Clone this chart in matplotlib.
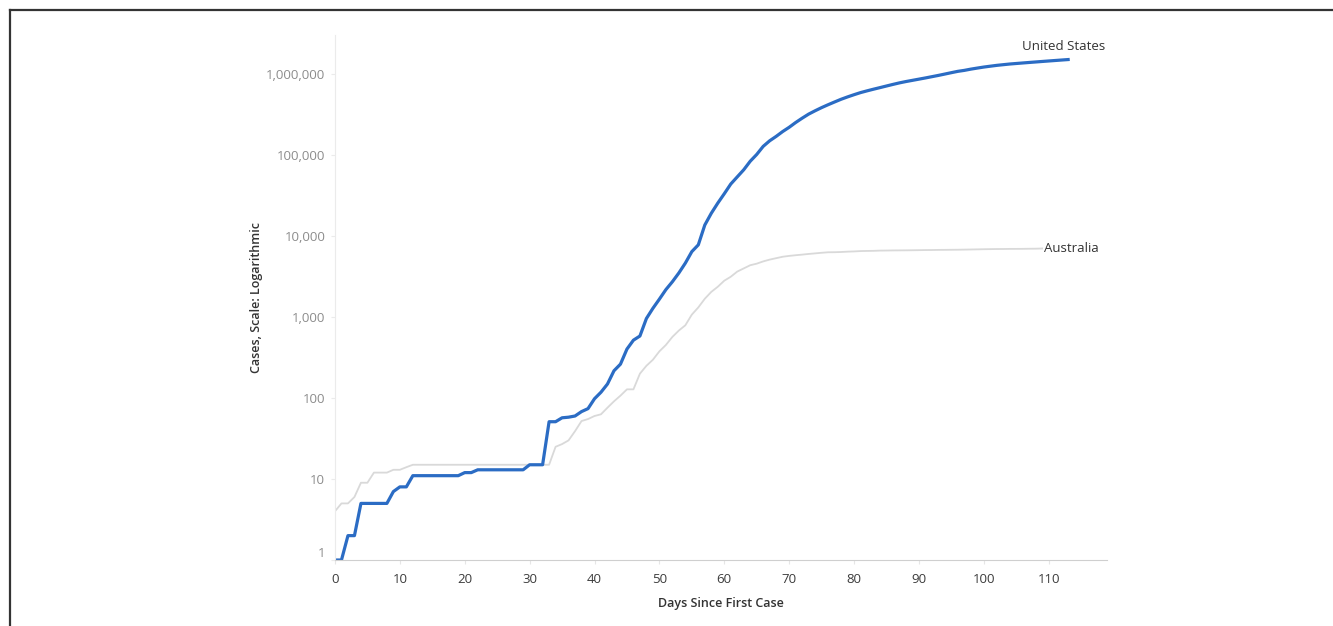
import matplotlib.pyplot as plt
from matplotlib.lines import Line2D
from matplotlib.ticker import FixedLocator, NullLocator

plt.rcParams['font.family'] = ['Open Sans', 'DejaVu Sans']

# cumulative cases by days since first case
us_cases = [1, 1, 2, 2, 5, 5, 5, 5, 5, 7, 8, 8, 11, 11, 11, 11, 11, 11, 11, 11,
            12, 12, 13, 13, 13, 13, 13, 13, 13, 13, 15, 15, 15, 51, 51, 57, 58, 60, 68, 74,
            98, 118, 149, 217, 262, 402, 518, 583, 959, 1281,
            1663, 2179, 2726, 3499, 4632, 6421, 7786, 13680, 19101, 25493,
            33276, 43847, 53740, 65778, 83836, 101657, 128000, 150000, 170000, 195000,
            220000, 252000, 285000, 320000, 352000, 385000, 418000, 452000, 488000, 522000,
            556000, 590000, 620000, 650000, 680000, 712000, 745000, 778000, 808000, 836000,
            865000, 895000, 928000, 962000, 1000000, 1040000, 1080000, 1110000, 1150000, 1185000,
            1220000, 1250000, 1280000, 1305000, 1330000, 1350000, 1370000, 1390000, 1410000, 1430000,
            1450000, 1470000, 1490000, 1510000]
au_cases = [4, 5, 5, 6, 9, 9, 12, 12, 12, 13, 13, 14, 15, 15, 15, 15, 15, 15, 15, 15,
            15, 15, 15, 15, 15, 15, 15, 15, 15, 15, 15, 15, 15, 15, 25, 27, 30, 39, 52, 55,
            60, 63, 76, 91, 107, 128, 128, 200, 250, 297,
            377, 452, 568, 681, 791, 1071, 1314, 1682, 2044, 2364,
            2810, 3143, 3640, 3984, 4361, 4559, 4862, 5116, 5330, 5550,
            5687, 5797, 5895, 6010, 6108, 6215, 6303, 6315, 6351, 6416,
            6458, 6522, 6547, 6565, 6610, 6623, 6645, 6652, 6662, 6677,
            6694, 6714, 6721, 6744, 6752, 6766, 6778, 6799, 6822, 6847,
            6875, 6894, 6913, 6918, 6939, 6941, 6948, 6970, 6980, 7019]
us_days = list(range(len(us_cases)))
au_days = list(range(len(au_cases)))

y_ticks = [1, 10, 100, 1000, 10000, 100000, 1000000]
y_labels = ['1', '10', '100', '1,000', '10,000', '100,000', '1,000,000']
x_ticks = list(range(0, 120, 10))

fig = plt.figure(figsize=(13.33, 6.26), dpi=100)
ax = fig.add_axes([0.2513, 0.1054, 0.5792, 0.8386])

ax.plot(au_days, au_cases, color='#d9d9d9', lw=1.3, solid_joinstyle='round')
ax.plot(us_days, us_cases, color='#2b6cc4', lw=2.3, solid_joinstyle='round')

ax.set_yscale('log')
ax.set_ylim(1, 3.03e6)
ax.set_xlim(0, 119)
ax.yaxis.set_major_locator(FixedLocator(y_ticks))
ax.yaxis.set_minor_locator(NullLocator())
ax.set_yticklabels(y_labels)
ax.set_xticks(x_ticks)

for s in ['top', 'right']:
    ax.spines[s].set_visible(False)
ax.spines['left'].set_color('#ebebeb')
ax.spines['bottom'].set_color('#cfcfcf')
ax.tick_params(axis='y', length=3, color='#ebebeb', labelsize=9.5, labelcolor='#8c8c8c', pad=4)
ax.tick_params(axis='x', length=3, color='#e6e6e6', labelsize=9.5, labelcolor='#3c3c3c', pad=6)
# the "1" label sits a little above the axis in the original
ax.get_yticklabels()[0].set_va('bottom')

ax.set_ylabel('Cases, Scale: Logarithmic', fontsize=9, color='#333333', fontweight='semibold', labelpad=2)
ax.set_xlabel('Days Since First Case', fontsize=9, color='#333333', fontweight='semibold', labelpad=8)

ax.annotate('United States', (us_days[-1], us_cases[-1]), xytext=(-33, 9.5),
            textcoords='offset points', fontsize=9.5, color='#333333', va='center', ha='left')
ax.annotate('Australia', (au_days[-1], au_cases[-1]), xytext=(1, 0),
            textcoords='offset points', fontsize=9.5, color='#333333', va='center', ha='left')

# dark frame on left and top edges
fig.add_artist(Line2D([10 / 1333, 10 / 1333], [0, 1 - 10 / 626], color='#333333', lw=1.6))
fig.add_artist(Line2D([10 / 1333, 1], [1 - 10 / 626, 1 - 10 / 626], color='#333333', lw=1.6))

fig.savefig('out.png', dpi=100)
